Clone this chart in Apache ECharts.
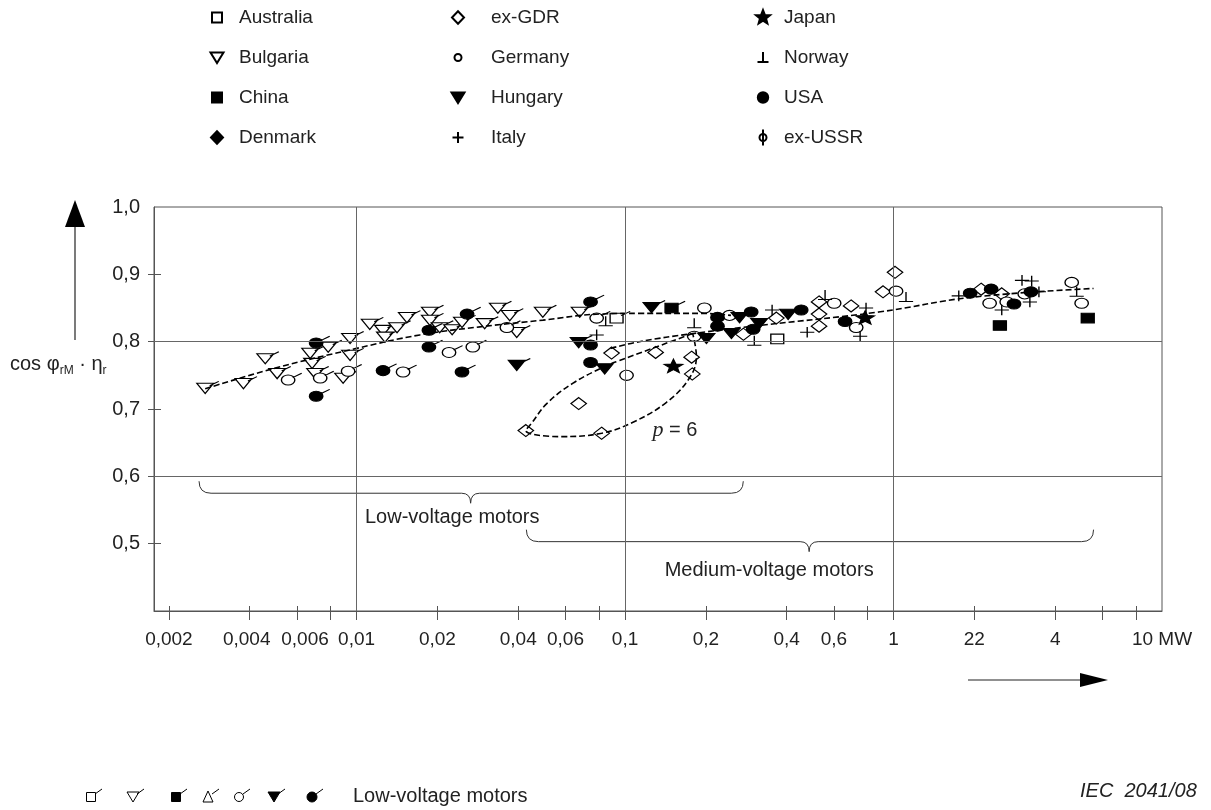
<!DOCTYPE html>
<html>
<head>
<meta charset="utf-8">
<script src="https://cdn.jsdelivr.net/npm/echarts@6/dist/echarts.min.js"></script>
<style>html,body{margin:0;padding:0;background:#fff}#c{width:1211px;height:810px}</style>
</head>
<body>
<div id="c"></div>
<script>
// ---------- axis data ----------
const X_MIN_MW = 0.00176, X_MAX_MW = 10;
const Y_MIN = 0.4, Y_MAX = 1.0;
const xTickMW = [0.002,0.004,0.006,0.008,0.01,0.02,0.04,0.06,0.08,0.1,0.2,0.4,0.6,0.8,1,2,4,6,8];
const xInnerTickMW = [0.002,0.004,0.006,0.008,0.02,0.04,0.06,0.08,0.2,0.4,0.6,0.8,2,4,6,8];
const xLabelMW = [0.002,0.004,0.006,0.01,0.02,0.04,0.06,0.1,0.2,0.4,0.6,1,2,4,10];
const xLabelText = ['0,002','0,004','0,006','0,01','0,02','0,04','0,06','0,1','0,2','0,4','0,6','1','22','4','10 MW'];
const yLabelValues = [0.5,0.6,0.7,0.8,0.9,1.0];
const yOuterTicks = [0.5,0.6,0.7,0.8,0.9];
const yCrossTicks = [0.5,0.7,0.9];
const xGridMW = [0.01,0.1,1];
const yGridValues = [0.6,0.8];

// ---------- measured points [MW, cos phi * eta] ----------
const australiaLV = [[0.0930,0.835]];
const australiaMV = [[0.369,0.804]];
const bulgariaLV = [[0.00273,0.731],[0.00379,0.738],[0.00457,0.775],[0.00506,0.753],[0.00672,0.783],[0.00683,0.768],[0.00701,0.753],[0.00784,0.792],[0.00946,0.805],[0.00946,0.780],[0.00891,0.746],[0.0112,0.826],[0.01255,0.817],[0.01276,0.807],[0.01415,0.821],[0.0154,0.836],[0.01876,0.844],[0.01876,0.832],[0.0204,0.821],[0.0227,0.818],[0.0247,0.829],[0.0300,0.827],[0.0336,0.850],[0.0372,0.839],[0.0395,0.814],[0.0494,0.844],[0.0678,0.844]];
const bulgariaMV = [];
const chinaLV = [[0.149,0.850]];
const chinaMV = [[2.49,0.824],[5.29,0.835]];
const denmarkLV = [];
const denmarkMV = [];
const exGdrLV = [];
const exGdrMV = [[0.0891,0.783],[0.130,0.784],[0.177,0.777],[0.178,0.752],[0.0672,0.708],[0.0427,0.668],[0.0818,0.664],[0.276,0.811],[0.366,0.835],[0.528,0.859],[0.528,0.841],[0.528,0.823],[0.695,0.853],[0.914,0.874],[1.013,0.903],[2.12,0.878],[2.53,0.871]];
const germanyLV = [[0.00556,0.743],[0.00732,0.746],[0.0093,0.756],[0.0149,0.755],[0.0221,0.784],[0.0271,0.792],[0.0363,0.821],[0.0784,0.835]];
const germanyMV = [[0.1013,0.750],[0.1975,0.850],[0.245,0.839],[0.181,0.808],[0.601,0.857],[0.726,0.821],[1.022,0.875],[2.28,0.857],[2.64,0.859],[3.08,0.871],[4.61,0.888],[5.02,0.857]];
const hungaryLV = [[0.0395,0.765],[0.0672,0.799],[0.1255,0.851]];
const hungaryMV = [[0.0840,0.760],[0.201,0.805],[0.249,0.8125],[0.267,0.836],[0.316,0.827],[0.405,0.841]];
const italyLV = [];
const italyMV = [[0.0784,0.810],[0.353,0.847],[0.477,0.814],[0.751,0.808],[0.790,0.850],[1.75,0.868],[3.01,0.891],[3.27,0.890],[3.22,0.859],[3.48,0.874],[2.53,0.847]];
const japanLV = [];
const japanMV = [[0.1515,0.763],[0.784,0.835]];
const norwayLV = [];
const norwayMV = [[0.0847,0.830],[0.181,0.827],[0.303,0.801],[0.556,0.869],[1.113,0.866],[4.81,0.874]];
const usaLV = [[0.00707,0.798],[0.00707,0.719],[0.01255,0.757],[0.0186,0.817],[0.0186,0.792],[0.0247,0.755],[0.0258,0.841],[0.0744,0.859]];
const usaMV = [[0.0744,0.795],[0.0744,0.769],[0.221,0.836],[0.221,0.823],[0.295,0.844],[0.300,0.8185],[0.453,0.847],[0.660,0.830],[1.93,0.872],[2.31,0.878],[2.81,0.856],[3.25,0.874]];
const exUssrLV = [];
const exUssrMV = [];

// ---------- trend curves ----------
const lvTrend = [[0.00273,0.730],[0.0049,0.760],[0.01,0.790],[0.0172,0.810],[0.0288,0.822],[0.0495,0.832],[0.080,0.841],[0.113,0.842],[0.195,0.842],[0.248,0.839]];
const mvTrend = [[0.0883,0.790],[0.113,0.800],[0.179,0.812],[0.316,0.824],[0.88,0.844],[1.96,0.866],[5.56,0.879]];
const p6Loop = [[0.1786,0.812],[0.0954,0.772],[0.0839,0.763],[0.0638,0.738],[0.0511,0.708],[0.0449,0.679],[0.0427,0.668],[0.0571,0.659],[0.0818,0.664],[0.1066,0.680],[0.1427,0.710],[0.1737,0.746],[0.1844,0.778],[0.1786,0.812]];

// ---------- braces [leftMW, rightMW, tipMW, level, labelMW, labelY] ----------
const braceRanges = [[0.00259,0.2757,0.0266,0.5749,0.01075,0.5391],[0.0429,5.56,0.485,0.503,0.1405,0.4598]];
const braceLabels = ['Low-voltage motors','Medium-voltage motors'];
const p6Label = [[0.1265,0.668]];

// ---------- symbols ----------
const L = Math.log10;
function starPath(R, r){let s='';for(let i=0;i<10;i++){const a=-Math.PI/2+i*Math.PI/5;const d=i%2?r:R;s+=(i?'L':'M')+(d*Math.cos(a)).toFixed(2)+','+(d*Math.sin(a)).toFixed(2);}return s+'Z';}
const SHAPES = {
  square:'M-5,-5L5,-5L5,5L-5,5Z',
  triDown:'M-6.5,-5L6.5,-5L0,5.5Z',
  circle:'M-5.2,0A5.2,5.2 0 1,1 5.2,0A5.2,5.2 0 1,1 -5.2,0Z',
  dot:'M-3.5,0A3.5,3.5 0 1,1 3.5,0A3.5,3.5 0 1,1 -3.5,0Z',
  diamond:'M0,-6.2L6,0L0,6.2L-6,0Z',
  plus:'M-5.5,0L5.5,0M0,-5.5L0,5.5',
  perp:'M-5.5,4.5L5.5,4.5M0,-5.5L0,4.5',
  phi:'M-3.5,0A3.5,3.5 0 1,1 3.5,0A3.5,3.5 0 1,1 -3.5,0ZM0,-8L0,8',
  star:starPath(7.5,3.2)
};
const FLAG = 'M3.5,-2.5L10.5,-7';
function sym(shape, flag, w, h){return 'path://M'+(-w/2)+','+(-h/2)+'M'+(w/2)+','+(h/2)+SHAPES[shape]+(flag?FLAG:'');}

const countries = [
  {name:'Australia', shape:'square', fill:'#fff', lv:australiaLV, mv:australiaMV},
  {name:'Bulgaria', shape:'triDown', fill:'#fff', lv:bulgariaLV, mv:bulgariaMV},
  {name:'China', shape:'square', fill:'#000', lv:chinaLV, mv:chinaMV},
  {name:'Denmark', shape:'diamond', fill:'#000', lv:denmarkLV, mv:denmarkMV},
  {name:'ex-GDR', shape:'diamond', fill:'#fff', lv:exGdrLV, mv:exGdrMV},
  {name:'Germany', shape:'circle', fill:'#fff', lv:germanyLV, mv:germanyMV},
  {name:'Hungary', shape:'triDown', fill:'#000', lv:hungaryLV, mv:hungaryMV},
  {name:'Italy', shape:'plus', fill:'#000', lv:italyLV, mv:italyMV},
  {name:'Japan', shape:'star', fill:'#000', lv:japanLV, mv:japanMV},
  {name:'Norway', shape:'perp', fill:'#000', lv:norwayLV, mv:norwayMV},
  {name:'USA', shape:'circle', fill:'#000', lv:usaLV, mv:usaMV},
  {name:'ex-USSR', shape:'phi', fill:'#fff', lv:exUssrLV, mv:exUssrMV}
];
const legendIconShape = {Germany:'dot'};

const FONT = '"Liberation Sans", Arial, sans-serif';
const toXY = p => [L(p[0]), p[1]];
const SYM_BOX = [24, 18];
const SYM_SIZE = [31, 23.25];

const scatterSeries = countries.map(c => ({
  type:'scatter', name:c.name, z:2, silent:true,
  symbol:sym(c.shape,false,SYM_BOX[0],SYM_BOX[1]), symbolSize:SYM_SIZE, symbolKeepAspect:true,
  itemStyle:{color:c.fill, borderColor:'#000', borderWidth:1.2, opacity:1},
  emphasis:{disabled:true},
  data:[...c.lv.map(p => ({value:toXY(p), symbol:sym(c.shape,true,SYM_BOX[0],SYM_BOX[1])})), ...c.mv.map(toXY)]
}));

const dashed = {color:'#000', width:1.6, type:[6,3]};
const lineSeries = [lvTrend, mvTrend, p6Loop].map(arr => ({
  type:'line', data:arr.map(toXY), smooth:0.4, symbol:'none', showSymbol:false,
  lineStyle:dashed, z:4, silent:true, emphasis:{disabled:true}
}));

const gridSeries = {
  type:'line', data:[], z:1, silent:true,
  markLine:{silent:true, symbol:'none', label:{show:false}, animation:false,
    lineStyle:{color:'#666', width:1, type:'solid'},
    emphasis:{disabled:true},
    data:[...xGridMW.map(m => ({xAxis:L(m)})), ...yGridValues.map(v => ({yAxis:v}))]}
};

const braceSeries = {
  type:'custom', z:3, silent:true,
  data:braceRanges.map(b => [L(b[0]), L(b[1]), L(b[2]), b[3], L(b[4]), b[5]]),
  renderItem:(params, api) => {
    const l = api.coord([api.value(0), api.value(3)]);
    const r = api.coord([api.value(1), api.value(3)]);
    const t = api.coord([api.value(2), api.value(3)]);
    const lab = api.coord([api.value(4), api.value(5)]);
    const y = l[1], c = 12, tip = 10;
    const d = 'M'+l[0]+','+(y-c)+' Q'+l[0]+','+y+' '+(l[0]+c)+','+y+
      ' L'+(t[0]-9)+','+y+' Q'+t[0]+','+y+' '+t[0]+','+(y+tip)+
      ' Q'+t[0]+','+y+' '+(t[0]+9)+','+y+
      ' L'+(r[0]-c)+','+y+' Q'+r[0]+','+y+' '+r[0]+','+(y-c);
    return {type:'group', children:[
      {type:'path', shape:{pathData:d}, style:{fill:'none', stroke:'#333', lineWidth:1}},
      {type:'text', x:lab[0], y:lab[1], style:{text:braceLabels[params.dataIndex], fill:'#222', font:'20px '+FONT, align:'left', verticalAlign:'middle'}}
    ]};
  }
};

const p6Series = {
  type:'custom', z:3, silent:true,
  data:p6Label.map(toXY),
  renderItem:(params, api) => {
    const p = api.coord([api.value(0), api.value(1)]);
    return {type:'text', x:p[0], y:p[1], style:{
      text:'{i|p}{n| = 6}', align:'left', verticalAlign:'middle',
      rich:{i:{fontFamily:'"Liberation Serif", serif', fontStyle:'italic', fontSize:22, fill:'#222'},
            n:{fontFamily:FONT, fontSize:20, fill:'#222'}}}};
  }
};

function legendCol(names, left, w){
  return {orient:'vertical', left:left, top:3, itemWidth:w, itemHeight:16, itemGap:21,
    selectedMode:false, symbolKeepAspect:true,
    textStyle:{fontSize:19, fontFamily:FONT, color:'#222'},
    data:names.map(n => {const c = countries.find(q => q.name === n);
      return {name:n, icon:sym(legendIconShape[n] || c.shape, false, 16, 16)};})};
}

// bottom legend (flagged symbols)
const bottomY = 797;
const bottomXs = [91,133,176,208,239,274,312];
function flagLine(cx){return {type:'line', shape:{x1:cx+4,y1:bottomY-3,x2:cx+11,y2:bottomY-8}, style:{stroke:'#000', lineWidth:1}};}
const bStroke = {stroke:'#000', lineWidth:1};
const bottomShapes = [
  {type:'rect', shape:{x:bottomXs[0]-4.5,y:bottomY-4.5,width:9,height:9}, style:Object.assign({fill:'#fff'},bStroke)},
  {type:'polygon', shape:{points:[[bottomXs[1]-6,bottomY-5],[bottomXs[1]+6,bottomY-5],[bottomXs[1],bottomY+5]]}, style:Object.assign({fill:'#fff'},bStroke)},
  {type:'rect', shape:{x:bottomXs[2]-4.5,y:bottomY-4.5,width:9,height:9}, style:Object.assign({fill:'#000'},bStroke)},
  {type:'polygon', shape:{points:[[bottomXs[3]-5,bottomY+5],[bottomXs[3]+5,bottomY+5],[bottomXs[3],bottomY-6]]}, style:Object.assign({fill:'#fff'},bStroke)},
  {type:'circle', shape:{cx:bottomXs[4],cy:bottomY,r:4.5}, style:Object.assign({fill:'#fff'},bStroke)},
  {type:'polygon', shape:{points:[[bottomXs[5]-6,bottomY-5],[bottomXs[5]+6,bottomY-5],[bottomXs[5],bottomY+5]]}, style:Object.assign({fill:'#000'},bStroke)},
  {type:'circle', shape:{cx:bottomXs[6],cy:bottomY,r:5}, style:Object.assign({fill:'#000'},bStroke)}
];
bottomXs.forEach(x => bottomShapes.push(flagLine(x)));

const xLabelShift = {'0,004':[0,6,0,0], '0,006':[0,0,0,16]};

const chart = echarts.init(document.getElementById('c'), null, {renderer:'canvas'});
chart.setOption({
  animation:false,
  backgroundColor:'#fff',
  textStyle:{fontFamily:FONT},
  grid:{left:154, right:49, top:207, bottom:199, containLabel:false, outerBoundsMode:'none',
        show:true, borderColor:'#555', borderWidth:1, backgroundColor:'transparent'},
  legend:[
    legendCol(['Australia','Bulgaria','China','Denmark'], 203, 34),
    legendCol(['ex-GDR','Germany','Hungary','Italy'], 444, 56),
    legendCol(['Japan','Norway','USA','ex-USSR'], 749, 32)
  ],
  xAxis:[
    {type:'value', min:L(X_MIN_MW), max:L(X_MAX_MW), position:'bottom',
     axisLine:{show:true, onZero:false, lineStyle:{color:'#555', width:1}},
     splitLine:{show:false},
     axisTick:{show:true, inside:false, length:9, customValues:xTickMW.map(L), lineStyle:{color:'#555'}},
     axisLabel:{show:true, customValues:xLabelMW.map(L), margin:19, hideOverlap:false,
       fontSize:19, color:'#222', fontFamily:FONT,
       rich:{a:{fontSize:19, color:'#222', fontFamily:FONT, padding:xLabelShift['0,004']},
             b:{fontSize:19, color:'#222', fontFamily:FONT, padding:xLabelShift['0,006']}},
       formatter:v => {const i = xLabelMW.findIndex(m => Math.abs(L(m)-v) < 1e-6);
         if (i < 0) return ''; const t = xLabelText[i];
         if (t === '0,004') return '{a|'+t+'}'; if (t === '0,006') return '{b|'+t+'}'; return t;}}},
    {type:'value', min:L(X_MIN_MW), max:L(X_MAX_MW), position:'bottom',
     axisLine:{show:false, onZero:false}, splitLine:{show:false}, axisLabel:{show:false},
     axisTick:{show:true, inside:true, length:5, customValues:xInnerTickMW.map(L), lineStyle:{color:'#555'}}}
  ],
  yAxis:[
    {type:'value', min:Y_MIN, max:Y_MAX, interval:0.1, position:'left',
     axisLine:{show:true, onZero:false, lineStyle:{color:'#555', width:1}},
     splitLine:{show:false},
     axisTick:{show:true, inside:false, length:6, customValues:yOuterTicks, lineStyle:{color:'#555'}},
     axisLabel:{show:true, customValues:yLabelValues, margin:14, fontSize:20, color:'#222', fontFamily:FONT,
       formatter:v => v.toFixed(1).replace('.', ',')}},
    {type:'value', min:Y_MIN, max:Y_MAX, interval:0.1, position:'left',
     axisLine:{show:false, onZero:false}, splitLine:{show:false}, axisLabel:{show:false},
     axisTick:{show:true, inside:true, length:7, customValues:yCrossTicks, lineStyle:{color:'#555'}}}
  ],
  series:[gridSeries, ...scatterSeries, ...lineSeries, braceSeries, p6Series],
  graphic:[
    {type:'line', shape:{x1:75,y1:340,x2:75,y2:222}, style:{stroke:'#222', lineWidth:1.2}},
    {type:'polygon', shape:{points:[[65,227],[85,227],[75,200]]}, style:{fill:'#000'}},
    {type:'line', shape:{x1:968,y1:680,x2:1084,y2:680}, style:{stroke:'#222', lineWidth:1.2}},
    {type:'polygon', shape:{points:[[1080,673],[1080,687],[1108,680]]}, style:{fill:'#000'}},
    {type:'text', left:10, top:354, style:{
      text:'{a|cos φ}{s|rM}{a| · η}{s|r}',
      rich:{a:{fontSize:20, fontFamily:FONT, fill:'#222', lineHeight:26, verticalAlign:'middle'},
            s:{fontSize:12, fontFamily:FONT, fill:'#222', lineHeight:26, verticalAlign:'bottom'}}}},
    ...bottomShapes,
    {type:'text', left:353, top:786, style:{text:'Low-voltage motors', font:'20px '+FONT, fill:'#222'}},
    {type:'text', left:1080, top:781, style:{text:'IEC  2041/08', font:'italic 20px '+FONT, fill:'#222'}}
  ]
});
</script>
</body>
</html>
